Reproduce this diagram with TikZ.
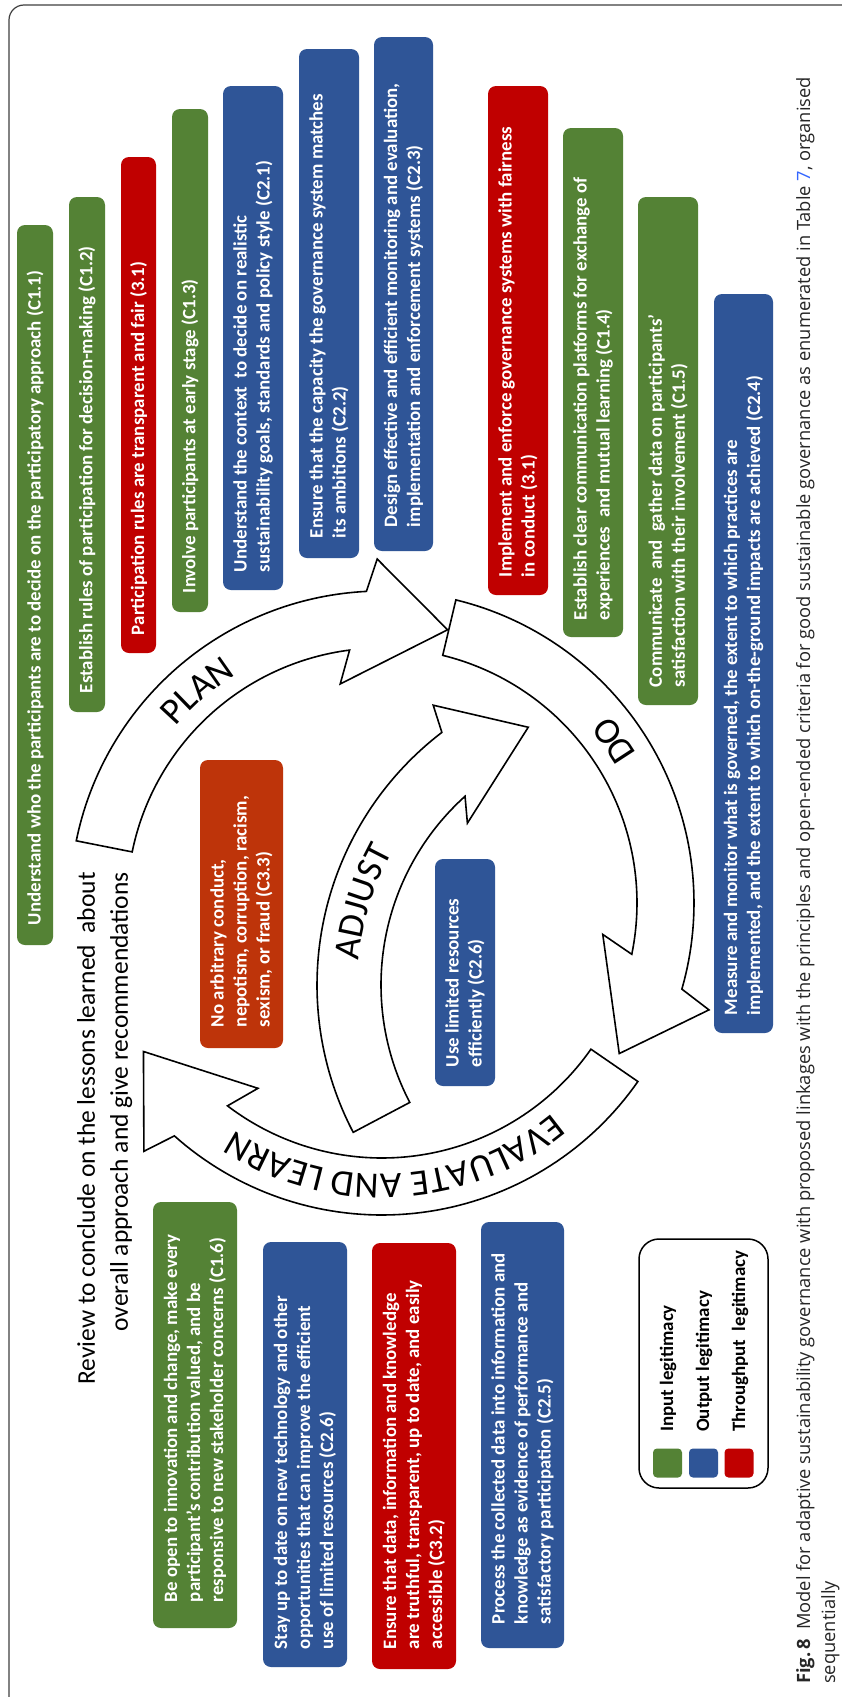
\documentclass[tikz,border=0pt]{standalone}
\usepackage{fontspec}
\setmainfont{Carlito}
\newfontfamily\capfont{Open Sans}
\usetikzlibrary{calc,decorations.text}

\definecolor{ingreen}{RGB}{84,130,53}
\definecolor{outblue}{RGB}{47,85,151}
\definecolor{thrured}{RGB}{192,0,0}
\definecolor{rustred}{RGB}{190,52,10}
\definecolor{linkblue}{RGB}{51,102,255}

\newcommand{\ringfont}{\fontsize{37}{40}\selectfont}

\tikzset{
  frame/.style={draw=black!75, line width=1.2pt, rounded corners=15pt},
  cbox/.style={rectangle, rounded corners=8pt, rotate=90, inner sep=0pt},
  ctext/.style={rotate=90, anchor=west, inner sep=0pt, align=left, text=white,
    font=\bfseries\fontsize{18.9}{23}\selectfont},
  ringarrow/.style={draw=black, fill=white, line width=1.6pt, line join=miter},
  legframe/.style={draw=black, line width=1.5pt, rounded corners=20pt, rotate=90, inner sep=0pt},
  swatch/.style={rectangle, rounded corners=4pt, minimum size=29pt, inner sep=0pt},
  legtext/.style={rotate=90, anchor=west, inner sep=0pt, font=\bfseries\fontsize{18.9}{22}\selectfont},
  review/.style={rotate=90, anchor=north east, inner sep=0pt, align=right,
    font=\fontsize{25.5}{33}\selectfont},
  caption/.style={rotate=90, anchor=north west, inner sep=0pt, align=left, text=black!85,
    font=\capfont\fontsize{18.3}{25}\selectfont},
}

% coloured criterion box: name, colour, left, top, right, bottom, text offset, text
\newcommand{\critbox}[8]{%
  \node[cbox, fill=#2, minimum width={(#6)-(#4)}, minimum height={(#5)-(#3)}]
    (#1) at ({((#3)+(#5))/2},{((#4)+(#6))/2}) {};
  \node[ctext] (#1-t) at ($(#1.west)+(0,-#7)$) {#8};
}

% block arrow on the main cycle: tail angle, barb angle
\newcommand{\ringarrow}[2]{%
  \draw[ringarrow]
    plot[domain=0:1, samples=70]
      ({382+312*cos((#1)+\x*((#2)-(#1)))},{903+312*sin((#1)+\x*((#2)-(#1)))})
    -- ({382+344*cos((#2)+2)},{903+344*sin((#2)+2)})
    -- ({382+281*cos((#2)+16.3)},{903+281*sin((#2)+16.3)})
    -- ({382+223*cos((#2)-8)},{903+223*sin((#2)-8)})
    -- plot[domain=0:1, samples=70]
      ({382+255*cos((#2)-4.5+\x*((#1)-(#2)+4.5))},{903+255*sin((#2)-4.5+\x*((#1)-(#2)+4.5))})
    -- cycle;
}

% curved label: centre x, centre y, radius, from angle, to angle, text
\newcommand{\arclabel}[6]{%
  \path[decorate, decoration={text along path, text align=center, text={|\ringfont|#6}}]
    plot[domain=0:1, samples=80]
      ({(#1)+(#3)*cos((#4)+\x*((#5)-(#4)))},{(#2)+(#3)*sin((#4)+\x*((#5)-(#4)))});
}

\begin{document}
\begin{tikzpicture}[x=1pt, y=-1pt]
\useasboundingbox (0,0) rectangle (842,1697);
\clip (0,0) rectangle (842,1697);
\fill[white] (0,0) rectangle (842,1697);

% outer frame
\draw[frame] (9,5) rectangle (900,1712);

% criteria along the top
\critbox{c11}{ingreen}{17}{225}{53}{945}{20}{Understand who the participants are to decide on the participatory approach (C1.1)}
\critbox{c12}{ingreen}{69}{197}{105}{712}{19}{Establish rules of participation for decision-making (C1.2)}
\critbox{t31a}{thrured}{121}{157}{156}{653}{18}{Participation rules are transparent and fair (3.1)}
\critbox{c13}{ingreen}{172}{109}{208}{612}{19}{Involve participants at early stage (C1.3)}
\critbox{c21}{outblue}{223}{86}{283}{590}{18}{Understand the context\ \ to decide on realistic\\sustainability goals, standards and policy style (C2.1)}
\critbox{c22}{outblue}{299}{49}{359}{558}{20}{Ensure that the capacity the governance system matches\\its ambitions (C2.2)}
\critbox{c23}{outblue}{374}{37}{433}{551}{24}{Design effective and efficient monitoring and evaluation,\\implementation and enforcement systems (C2.3)}
\critbox{t31b}{thrured}{488}{86}{548}{595}{18}{Implement and enforce governance systems with fairness\\in conduct (3.1)}
\critbox{c14}{ingreen}{563}{128}{623}{637}{17}{Establish clear communication platforms for exchange of\\experiences\ \ and mutual learning (C1.4)}
\critbox{c15}{ingreen}{638}{197}{698}{705}{18}{Communicate\ \ and\ \ gather data on participants’\\satisfaction with their involvement (C1.5)}
\critbox{c24}{outblue}{714}{294}{773}{1033}{18}{Measure and monitor what is governed, the extent to which practices are\\implemented, and the extent to which on-the-ground impacts are achieved (C2.4)}

% criteria inside the cycle
\critbox{c33}{rustred}{200}{760}{283}{1048}{21}{No arbitrary conduct,\\nepotism, corruption, racism,\\sexism, or fraud (C3.3)}
\critbox{c26a}{outblue}{435}{859}{495}{1086}{19}{Use limited resources\\efficiently (C2.6)}

% criteria along the bottom
\critbox{c16}{ingreen}{153}{1202}{237}{1628}{26}{Be open to innovation and change, make every\\participant’s contribution valued, and be\\responsive to new stakeholder concerns (C1.6)}
\critbox{c26b}{outblue}{263}{1242}{347}{1667}{18}{Stay up to date on new technology and other\\opportunities that can improve the efficient\\use of limited resources (C2.6)}
\critbox{c32}{thrured}{372}{1243}{456}{1669}{20}{Ensure that data, information and knowledge\\are truthful, transparent, up to date, and easily\\accessible (C3.2)}
\critbox{c25}{outblue}{481}{1222}{564}{1648}{24}{Process the collected data into information and\\knowledge as evidence of performance and\\satisfactory participation (C2.5)}

% review statement
\node[review] (rev) at (77,872) {Review to conclude on the lessons learned\ \ about\\overall approach and give recommendations};

% main cycle: plan, do, evaluate and learn
\ringarrow{-168.5}{-92.8}
\ringarrow{-76.3}{16.1}
\ringarrow{34.9}{131.8}

% inner adjust arrow
\draw[ringarrow]
  plot[domain=152.4:232.6, samples=70] ({635+318*cos(\x)},{985+318*sin(\x)})
  -- ({635+345*cos(234.2)},{985+345*sin(234.2)})
  -- ({635+279*cos(247.5)},{985+279*sin(247.5)})
  -- ({635+233*cos(224)},{985+233*sin(224)})
  -- plot[domain=0:1, samples=70] ({635+254*cos(228-75.6*\x)},{985+254*sin(228-75.6*\x)})
  -- cycle;

% stage labels
\arclabel{382}{903}{271}{-171}{-91}{PLAN}
\arclabel{382}{903}{295}{5}{-75}{DO}
\arclabel{382}{903}{271}{30}{144}{EVALUATE AND LEARN}
\arclabel{635}{985}{277}{172}{222}{ADJUST}

% legend
\node[legframe, minimum width=249pt, minimum height=129pt] (legend) at (703.5,1363.5) {};
\node[swatch, fill=ingreen] (swin) at (667.5,1463) {};
\node[swatch, fill=outblue] (swout) at (703.5,1463) {};
\node[swatch, fill=thrured] (swthru) at (739,1463) {};
\node[legtext] (lin) at (668,1432) {Input legitimacy};
\node[legtext] (lout) at (704,1432) {Output legitimacy};
\node[legtext] (lthru) at (740,1432) {Throughput\ \ legitimacy};

% caption
\node[caption] (cap) at (796,1684) {\textbf{Fig.\,8}\enspace Model for adaptive sustainability governance with proposed linkages with the principles and open-ended criteria for good sustainable governance as enumerated in Table {\color{linkblue}7}, organised\\sequentially};
\end{tikzpicture}
\end{document}
